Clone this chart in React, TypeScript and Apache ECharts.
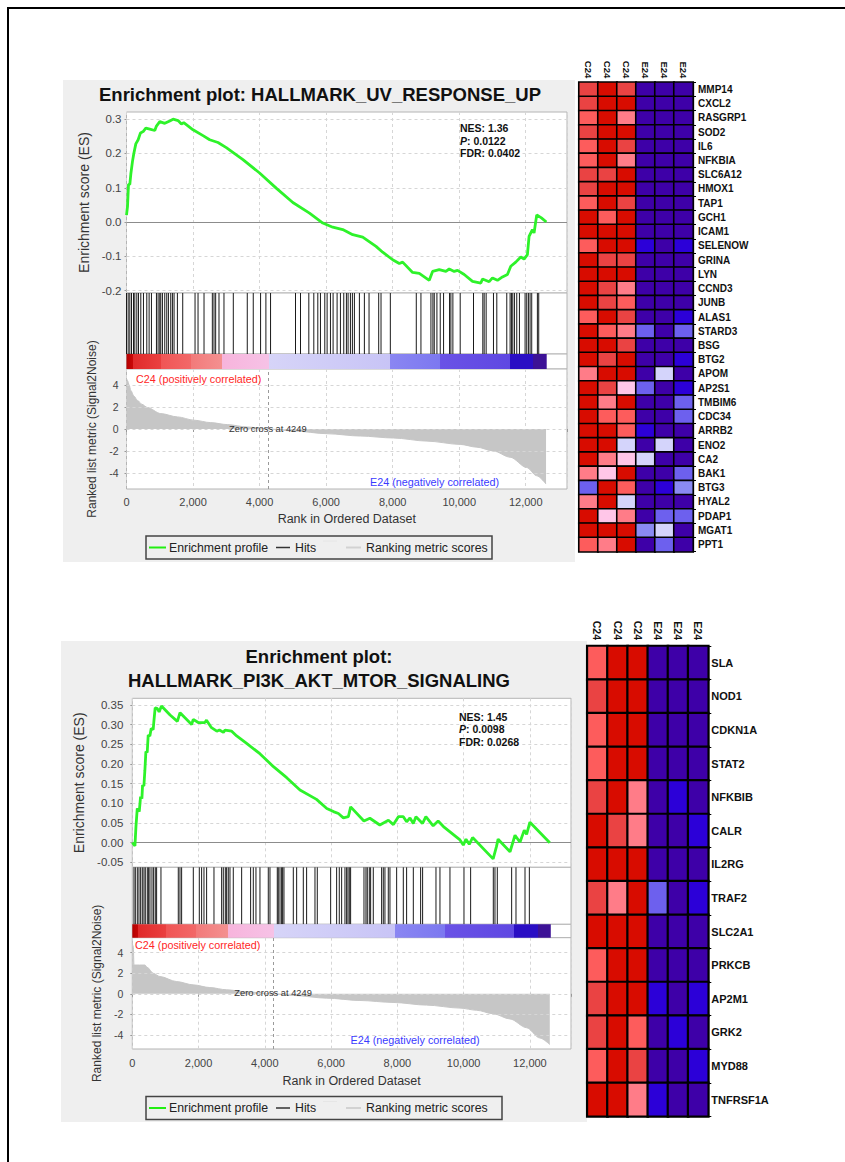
import React, { useEffect, useRef } from 'react';
import * as echarts from 'echarts';

const FONT = '"Liberation Sans", Arial, Helvetica, sans-serif';

// ---------------- Shared ----------------
const rankTickStep = 2000;
const rankAxisMax = 13240;
const datasetSize = 12630;
const zeroCross = 4249;
const metricTicks = [-4, -2, 0, 2, 4];
const legendLabels = ['Enrichment profile', 'Hits', 'Ranking metric scores'];
const posLabel = 'C24 (positively correlated)';
const negLabel = 'E24 (negatively correlated)';

// colour bar of the ranked list (rank, colour)
const barRank = [0, 180, 180, 1030, 1030, 1930, 1930, 2880, 2880, 4280, 4280, 7930, 7930, 9430, 9430, 11530, 11530, 12230, 12230, 12630];
const barColor = ['#b40000', '#c80808', '#e02a2a', '#ea4040', '#f05555', '#f26868', '#f27a7a', '#f49090', '#f7b4dc', '#f6c2e6', '#d6d4f8', '#c8c4f6', '#8a86f2', '#7c78f0', '#6a52e6', '#5f48e2', '#2a0ec4', '#2a0ec4', '#3c1296', '#3c1296'];

// ---------------- Top panel: HALLMARK_UV_RESPONSE_UP ----------------
const uvTitle = ['Enrichment plot: HALLMARK_UV_RESPONSE_UP'];
const uvStats = ['1.36', '0.0122', '0.0402'];
const uvEsTicks = [-0.2, -0.1, 0, 0.1, 0.2, 0.3];
const uvEsRank = [0, 30, 60, 100, 130, 180, 220, 280, 350, 420, 500, 580, 700, 850, 900, 1000, 1150, 1300, 1400, 1550, 1650, 1720, 2000, 2300, 2500, 2750, 3000, 3500, 4000, 4500, 5000, 5500, 5900, 6200, 6500, 6800, 7100, 7500, 7700, 8000, 8200, 8300, 8600, 8800, 9100, 9200, 9400, 9600, 9700, 9850, 9950, 10150, 10400, 10650, 10700, 10900, 11000, 11150, 11300, 11450, 11550, 11700, 11850, 11950, 12050, 12100, 12200, 12250, 12330, 12470, 12620];
const uvEsValue = [0.02, 0.045, 0.11, 0.11, 0.14, 0.177, 0.2, 0.228, 0.24, 0.26, 0.264, 0.274, 0.271, 0.267, 0.28, 0.293, 0.288, 0.295, 0.3, 0.296, 0.286, 0.29, 0.269, 0.252, 0.24, 0.232, 0.217, 0.182, 0.143, 0.099, 0.057, 0.026, -0.003, -0.015, -0.022, -0.037, -0.044, -0.071, -0.088, -0.11, -0.121, -0.117, -0.147, -0.15, -0.17, -0.144, -0.139, -0.144, -0.137, -0.144, -0.141, -0.153, -0.173, -0.178, -0.166, -0.174, -0.163, -0.17, -0.16, -0.153, -0.129, -0.117, -0.102, -0.108, -0.095, -0.042, -0.022, -0.032, 0.021, 0.012, 0.0];
const uvHits = [0, 50, 100, 150, 210, 250, 310, 360, 430, 510, 610, 680, 750, 900, 950, 1000, 1030, 1080, 1150, 1210, 1260, 1330, 1380, 1430, 1530, 1690, 2060, 2150, 2330, 2580, 2630, 2680, 2780, 2930, 3210, 3630, 3810, 4030, 4190, 4330, 5080, 5230, 5480, 5630, 5750, 5830, 5960, 6030, 6130, 6210, 6330, 6430, 6530, 6610, 6660, 6730, 6790, 6850, 7000, 7150, 7290, 7580, 7650, 7930, 8710, 8850, 9150, 9210, 9250, 9330, 9430, 9530, 9710, 9750, 9810, 10030, 10430, 10710, 10750, 10810, 11030, 11130, 11430, 11530, 11570, 11610, 11660, 11730, 11810, 11980, 12030, 12080, 12130, 12180, 12350, 12390];
const uvMetricRank = [0, 30, 80, 130, 220, 330, 460, 630, 1030, 1530, 2030, 2530, 3030, 3630, 4249, 5030, 6030, 7030, 8030, 9030, 10030, 10530, 11030, 11530, 12030, 12330, 12610];
const uvMetricValue = [4.6, 4.4, 4.0, 3.5, 3.0, 2.6, 2.25, 1.95, 1.4, 1.1, 0.8, 0.58, 0.4, 0.18, 0, -0.18, -0.43, -0.64, -0.82, -1.1, -1.4, -1.65, -2.0, -2.56, -3.5, -4.25, -5.0];

// ---------------- Bottom panel: HALLMARK_PI3K_AKT_MTOR_SIGNALING ----------------
const pi3kTitle = ['Enrichment plot:', 'HALLMARK_PI3K_AKT_MTOR_SIGNALING'];
const pi3kStats = ['1.45', '0.0098', '0.0268'];
const pi3kEsTicks = [-0.05, 0, 0.05, 0.1, 0.15, 0.2, 0.25, 0.3, 0.35];
const pi3kEsRank = [0, 80, 110, 150, 210, 250, 290, 310, 350, 380, 410, 450, 480, 530, 570, 630, 650, 690, 750, 810, 880, 1140, 1360, 1440, 1590, 1790, 1840, 1990, 2090, 2190, 2240, 2390, 2550, 2630, 2750, 2800, 3000, 3150, 3450, 3850, 4260, 4660, 5060, 5560, 5870, 6070, 6220, 6370, 6520, 6590, 6990, 7170, 7470, 7730, 7880, 8030, 8180, 8280, 8380, 8480, 8560, 8760, 8860, 9080, 9230, 9390, 9890, 9990, 10070, 10170, 10270, 10890, 10990, 11040, 11400, 11550, 11700, 11830, 11900, 12000, 12600];
const pi3kEsValue = [0, -0.008, 0.041, 0.087, 0.079, 0.117, 0.112, 0.146, 0.144, 0.184, 0.231, 0.229, 0.273, 0.271, 0.29, 0.287, 0.307, 0.342, 0.341, 0.332, 0.347, 0.324, 0.308, 0.33, 0.317, 0.3, 0.313, 0.305, 0.305, 0.305, 0.311, 0.292, 0.283, 0.286, 0.28, 0.286, 0.283, 0.271, 0.252, 0.226, 0.193, 0.165, 0.134, 0.11, 0.087, 0.079, 0.074, 0.063, 0.066, 0.091, 0.055, 0.062, 0.045, 0.057, 0.046, 0.066, 0.066, 0.053, 0.063, 0.049, 0.066, 0.049, 0.066, 0.043, 0.055, 0.041, 0.007, -0.006, 0.009, -0.004, 0.013, -0.041, -0.01, 0.009, -0.023, 0.019, 0.001, 0.032, 0.021, 0.052, 0.0];
const pi3kHits = [50, 91, 151, 201, 252, 302, 352, 392, 453, 493, 533, 594, 644, 694, 734, 865, 1388, 1439, 1489, 1841, 2022, 2092, 2163, 2243, 2465, 2696, 2746, 2807, 2847, 2897, 2948, 3048, 3300, 3571, 3652, 3732, 3853, 4104, 4155, 4376, 4406, 4457, 4507, 4537, 4577, 4859, 4960, 5161, 5261, 5513, 5583, 5986, 6167, 6247, 6318, 6418, 6468, 6509, 6549, 6589, 6992, 7052, 7092, 7153, 7193, 7273, 7525, 7575, 7625, 7726, 7776, 7978, 8179, 8279, 8481, 8702, 8762, 9165, 9285, 9587, 10010, 10211, 10895, 10945, 11016, 11449, 11580, 11852, 11983];
const pi3kMetricRank = [0, 30, 50, 380, 450, 630, 835, 1340, 1840, 2340, 2850, 3450, 4249, 4850, 5860, 6870, 7870, 8880, 9890, 10390, 10890, 11400, 11900, 12300, 12600];
const pi3kMetricValue = [4.9, 4.6, 2.8, 2.8, 2.58, 2.0, 1.68, 1.19, 0.87, 0.61, 0.39, 0.19, 0, -0.16, -0.42, -0.65, -0.84, -1.1, -1.39, -1.6, -1.94, -2.45, -3.3, -4.3, -4.94];

// ---------------- Heat maps ----------------
const heatColumns = ['C24', 'C24', 'C24', 'E24', 'E24', 'E24'];
const heatLevels = [5, 4, 3, 2, 1, -1, -2, -3, -4, -5];
const heatColors = ['#d80c00', '#ea4343', '#fd5c5c', '#ff7c88', '#ffc6e8', '#d4d4fb', '#8a8af2', '#6d60ee', '#2c00d8', '#3e00a8'];

const uvGenes = ['MMP14', 'CXCL2', 'RASGRP1', 'SOD2', 'IL6', 'NFKBIA', 'SLC6A12', 'HMOX1', 'TAP1', 'GCH1', 'ICAM1', 'SELENOW', 'GRINA', 'LYN', 'CCND3', 'JUNB', 'ALAS1', 'STARD3', 'BSG', 'BTG2', 'APOM', 'AP2S1', 'TMBIM6', 'CDC34', 'ARRB2', 'ENO2', 'CA2', 'BAK1', 'BTG3', 'HYAL2', 'PDAP1', 'MGAT1', 'PPT1'];
const uvHeat = [
  [4, 5, 4, -5, -5, -5],
  [4, 5, 5, -5, -5, -5],
  [3, 5, 2, -5, -5, -5],
  [4, 5, 5, -5, -5, -5],
  [3, 5, 4, -5, -5, -5],
  [3, 5, 2, -5, -5, -5],
  [4, 4, 5, -5, -5, -5],
  [4, 5, 5, -5, -5, -5],
  [3, 5, 4, -5, -5, -5],
  [5, 3, 5, -5, -5, -5],
  [5, 5, 5, -5, -5, -5],
  [3, 5, 5, -4, -5, -4],
  [5, 4, 4, -5, -5, -5],
  [5, 5, 5, -5, -5, -5],
  [5, 4, 2, -5, -5, -5],
  [5, 4, 3, -5, -5, -5],
  [3, 5, 4, -5, -5, -4],
  [5, 3, 2, -3, -5, -3],
  [5, 5, 4, -5, -5, -5],
  [5, 4, 5, -5, -5, -4],
  [2, 5, 5, -5, -1, -5],
  [5, 4, 1, -3, -5, -4],
  [5, 2, 5, -5, -5, -3],
  [5, 3, 3, -5, -5, -3],
  [5, 5, 3, -4, -5, -5],
  [5, 5, -1, -5, -1, -5],
  [5, 2, 1, -1, -5, -5],
  [2, 1, 5, -5, -5, -3],
  [-3, 5, 3, -5, -4, -2],
  [2, 5, -1, -5, -5, -5],
  [5, 1, 2, -5, -3, -3],
  [5, 5, 5, -2, -1, -5],
  [3, 2, 5, -5, -3, -5],
];

const pi3kGenes = ['SLA', 'NOD1', 'CDKN1A', 'STAT2', 'NFKBIB', 'CALR', 'IL2RG', 'TRAF2', 'SLC2A1', 'PRKCB', 'AP2M1', 'GRK2', 'MYD88', 'TNFRSF1A'];
const pi3kHeat = [
  [3, 5, 5, -5, -5, -5],
  [4, 5, 5, -5, -5, -5],
  [3, 5, 5, -5, -5, -5],
  [3, 5, 5, -5, -5, -5],
  [4, 5, 2, -5, -4, -5],
  [5, 4, 2, -5, -5, -4],
  [5, 5, 5, -5, -5, -5],
  [4, 2, 5, -3, -5, -4],
  [5, 5, 5, -5, -5, -5],
  [3, 5, 5, -5, -5, -5],
  [4, 5, 5, -4, -5, -4],
  [4, 5, 3, -5, -4, -5],
  [3, 5, 4, -5, -5, -4],
  [5, 5, 2, -4, -5, -5],
];

// ---------------- Layout (pixels) ----------------
const PANELS = [
  {
    left: 126.5, right: 567, es: [112, 293], hits: [293, 354], bar: [354, 369], rank: [369, 489],
    esMin: -0.207, esMax: 0.321, rkMin: -5.45, rkMax: 5.45, esDigits: 1,
    esLabelMargin: 5, esNameGap: 33, rkLabelMargin: 8, rkNameGap: 24, xLabelMargin: 7, xNameGap: 23,
    titleX: 320, titleY: [94], statsX: 460, statsY: 122,
    posX: 136, posY: 379, negX: 499, negY: 482, zeroY: 428.7,
    legend: { x: 146, y: 536, w: 346, h: 23 },
  },
  {
    left: 132.3, right: 571, es: [698.3, 867.3], hits: [867.3, 924.3], bar: [924.3, 937.7], rank: [937.7, 1049],
    esMin: -0.0624, esMax: 0.3665, rkMin: -5.37, rkMax: 5.46, esDigits: 2,
    esLabelMargin: 9, esNameGap: 40, rkLabelMargin: 9, rkNameGap: 24, xLabelMargin: 8, xNameGap: 25,
    titleX: 319, titleY: [656, 680], statsX: 459, statsY: 710.5,
    posX: 135, posY: 945, negX: 479.5, negY: 1040, zeroY: 993.3,
    legend: { x: 146, y: 1096.5, w: 356, h: 23 },
  },
];
const HEAT = [
  { left: 579, top: 82.3, width: 114, height: 469.4, border: 1.6, font: 10, colFont: 9.5, colMargin: 4, rowMargin: 5 },
  { left: 587.3, top: 646, width: 121, height: 470.4, border: 2.2, font: 11, colFont: 10.5, colMargin: 6, rowMargin: 3 },
];

const fmtRank = (v: number) =>
  v % rankTickStep === 0 && v <= 12000 ? String(v).replace(/\B(?=(\d{3})+(?!\d))/g, ',') : '';

function buildOption() {
  const grids: any[] = [];
  const xAxes: any[] = [];
  const yAxes: any[] = [];
  const series: any[] = [];
  const graphics: any[] = [];

  const panelData = [
    { title: uvTitle, stats: uvStats, esTicks: uvEsTicks, esRank: uvEsRank, esValue: uvEsValue, hits: uvHits, mRank: uvMetricRank, mValue: uvMetricValue },
    { title: pi3kTitle, stats: pi3kStats, esTicks: pi3kEsTicks, esRank: pi3kEsRank, esValue: pi3kEsValue, hits: pi3kHits, mRank: pi3kMetricRank, mValue: pi3kMetricValue },
  ];

  const stops = barRank.map((r, i) => ({ offset: r / datasetSize, color: barColor[i] }));
  const dashed = { color: '#d6d6d6', type: [3, 3], width: 1 };

  PANELS.forEach((L, p) => {
    const d = panelData[p];
    const base = p * 4;
    const bands = [L.es, L.hits, L.bar, L.rank];
    bands.forEach(([t, b]) =>
      grids.push({ left: L.left, top: t, width: L.right - L.left, height: b - t, show: true, backgroundColor: '#ffffff', borderColor: '#b4b4b4', borderWidth: 1 })
    );
    bands.forEach((_, k) => {
      xAxes.push({
        type: 'value', gridIndex: base + k, min: 0, max: rankAxisMax, interval: rankTickStep,
        axisLine: { show: false },
        axisTick: k === 3 ? { show: true, length: 3, lineStyle: { color: '#999' } } : { show: false },
        axisLabel: k === 3 ? { show: true, formatter: fmtRank, fontSize: 11, color: '#444', fontFamily: FONT, margin: L.xLabelMargin } : { show: false },
        splitLine: { show: k === 0 || k === 3, lineStyle: dashed },
        name: k === 3 ? 'Rank in Ordered Dataset' : '',
        nameLocation: 'middle', nameGap: L.xNameGap,
        nameTextStyle: { fontSize: 12.5, color: '#333', fontFamily: FONT },
      });
    });
    yAxes.push({
      type: 'value', gridIndex: base, min: L.esMin, max: L.esMax,
      axisLine: { show: false }, splitLine: { show: false },
      axisTick: { show: true, customValues: d.esTicks, length: 2, lineStyle: { color: '#999' } },
      axisLabel: { customValues: d.esTicks, formatter: (v: number) => v.toFixed(L.esDigits), fontSize: 11.5, color: '#444', margin: L.esLabelMargin, fontFamily: FONT },
      name: 'Enrichment score (ES)', nameLocation: 'middle', nameRotate: 90, nameGap: L.esNameGap,
      nameTextStyle: { fontSize: 14, color: '#333', fontFamily: FONT },
    });
    yAxes.push({ type: 'value', gridIndex: base + 1, min: 0, max: 1, show: false });
    yAxes.push({ type: 'value', gridIndex: base + 2, min: 0, max: 1, show: false });
    yAxes.push({
      type: 'value', gridIndex: base + 3, min: L.rkMin, max: L.rkMax,
      axisLine: { show: false }, splitLine: { show: false },
      axisTick: { show: true, customValues: metricTicks, length: 2, lineStyle: { color: '#999' } },
      axisLabel: { customValues: metricTicks, formatter: (v: number) => String(v), fontSize: 10.5, color: '#444', margin: L.rkLabelMargin, fontFamily: FONT },
      name: 'Ranked list metric (Signal2Noise)', nameLocation: 'middle', nameRotate: 90, nameGap: L.rkNameGap,
      nameTextStyle: { fontSize: 12, color: '#333', fontFamily: FONT },
    });

    // ES horizontal grid lines
    series.push({
      type: 'line', xAxisIndex: base, yAxisIndex: base, data: [], z: 1, silent: true,
      markLine: { silent: true, symbol: ['none', 'none'], label: { show: false }, lineStyle: dashed,
        data: d.esTicks.filter((v) => Math.abs(v) > 1e-9).map((v) => ({ yAxis: v })) },
    });
    // ES curve
    series.push({
      type: 'line', xAxisIndex: base, yAxisIndex: base, z: 5, silent: true,
      data: d.esRank.map((r, i) => [r, d.esValue[i]]),
      showSymbol: false, lineStyle: { color: '#2ef22a', width: 2.8 },
      markLine: { silent: true, symbol: ['none', 'none'], label: { show: false }, lineStyle: { color: '#8c8c8c', type: 'solid', width: 1 }, data: [{ yAxis: 0 }] },
    });
    // hits
    series.push({
      type: 'custom', xAxisIndex: base + 1, yAxisIndex: base + 1, silent: true,
      data: d.hits.map((h) => [h, 0]), encode: { x: 0, y: 1 },
      renderItem: (params: any, api: any) => {
        const x = api.coord([api.value(0), 0])[0];
        const cs = params.coordSys;
        return { type: 'line', shape: { x1: x, y1: cs.y, x2: x, y2: cs.y + cs.height }, style: { stroke: '#1a1a1a', lineWidth: 1 } };
      },
    });
    // colour bar
    series.push({
      type: 'custom', xAxisIndex: base + 2, yAxisIndex: base + 2, silent: true,
      data: [[0, 0, datasetSize]], encode: { x: [0, 2], y: 1 },
      renderItem: (params: any, api: any) => {
        const cs = params.coordSys;
        const x0 = api.coord([api.value(0), 0])[0];
        const x1 = api.coord([api.value(2), 0])[0];
        return { type: 'rect', shape: { x: x0, y: cs.y, width: x1 - x0, height: cs.height }, style: { fill: new echarts.graphic.LinearGradient(0, 0, 1, 0, stops) } };
      },
    });
    // ranked horizontal grid lines
    series.push({
      type: 'line', xAxisIndex: base + 3, yAxisIndex: base + 3, data: [], z: 1, silent: true,
      markLine: { silent: true, symbol: ['none', 'none'], label: { show: false }, lineStyle: dashed,
        data: metricTicks.map((v) => ({ yAxis: v })) },
    });
    // ranked list metric area
    series.push({
      type: 'line', xAxisIndex: base + 3, yAxisIndex: base + 3, z: 3, silent: true,
      data: d.mRank.map((r, i) => [r, d.mValue[i]]),
      smooth: 0.3, smoothMonotone: 'x', showSymbol: false,
      lineStyle: { width: 1, color: '#c6c6c6' }, areaStyle: { color: '#c6c6c6', opacity: 1 },
      markLine: { silent: true, symbol: ['none', 'none'], label: { show: false }, lineStyle: { color: '#9a9a9a', type: [3, 3], width: 1 }, data: [{ xAxis: zeroCross }] },
    });

    // texts
    d.title.forEach((t, i) =>
      graphics.push({ type: 'text', x: L.titleX, y: L.titleY[i], z: 100, style: { text: t, font: `bold 18.5px ${FONT}`, fill: '#111', align: 'center', verticalAlign: 'middle' } })
    );
    graphics.push({
      type: 'text', x: L.statsX, y: L.statsY, z: 100,
      style: {
        text: `{b|NES: ${d.stats[0]}}\n{i|P}{b|: ${d.stats[1]}}\n{b|FDR: ${d.stats[2]}}`,
        rich: {
          b: { fontFamily: FONT, fontSize: 10.5, fontWeight: 'bold', fill: '#111', lineHeight: 12.5 },
          i: { fontFamily: FONT, fontSize: 10.5, fontWeight: 'bold', fontStyle: 'italic', fill: '#111', lineHeight: 12.5 },
        },
      },
    });
    graphics.push({ type: 'text', x: L.posX, y: L.posY, z: 100, style: { text: posLabel, font: `10.8px ${FONT}`, fill: '#ff2626', align: 'left', verticalAlign: 'middle' } });
    graphics.push({ type: 'text', x: L.negX, y: L.negY, z: 100, style: { text: negLabel, font: `10.8px ${FONT}`, fill: '#3a3aff', align: 'right', verticalAlign: 'middle' } });
    const zx = L.left + (zeroCross / rankAxisMax) * (L.right - L.left);
    graphics.push({ type: 'text', x: zx, y: L.zeroY, z: 100, style: { text: `Zero cross at ${zeroCross}`, font: `9.3px ${FONT}`, fill: '#333', align: 'center', verticalAlign: 'middle' } });

    // legend
    const g = L.legend;
    const cy = g.y + g.h / 2;
    graphics.push({ type: 'rect', z: 100, shape: { x: g.x, y: g.y, width: g.w, height: g.h }, style: { fill: 'none', stroke: '#444', lineWidth: 1.5 } });
    graphics.push({ type: 'line', z: 100, shape: { x1: g.x + 3, y1: cy, x2: g.x + 20, y2: cy }, style: { stroke: '#22ee11', lineWidth: 2 } });
    graphics.push({ type: 'line', z: 100, shape: { x1: g.x + 130, y1: cy, x2: g.x + 144, y2: cy }, style: { stroke: '#333', lineWidth: 1.5 } });
    graphics.push({ type: 'line', z: 100, shape: { x1: g.x + 177, y1: g.y + 5, x2: g.x + 191, y2: g.y + 5 }, style: { stroke: '#e6e6e6', lineWidth: 1 } });
    graphics.push({ type: 'line', z: 100, shape: { x1: g.x + 200, y1: cy, x2: g.x + 215, y2: cy }, style: { stroke: '#d2d2d2', lineWidth: 2 } });
    [[23, 0], [149, 1], [220, 2]].forEach(([dx, i]) =>
      graphics.push({ type: 'text', z: 100, x: g.x + dx, y: cy, style: { text: legendLabels[i], font: `12.3px ${FONT}`, fill: '#222', align: 'left', verticalAlign: 'middle' } })
    );
  });

  // heat maps
  const heatSeriesIdx: number[] = [];
  const heatSets = [
    { genes: uvGenes, values: uvHeat },
    { genes: pi3kGenes, values: pi3kHeat },
  ];
  heatSets.forEach((h, k) => {
    const H = HEAT[k];
    const gi = grids.length;
    grids.push({ left: H.left, top: H.top, width: H.width, height: H.height });
    xAxes.push({
      type: 'category', gridIndex: gi, data: heatColumns.map((_, i) => String(i)), position: 'top',
      axisLine: { show: false }, axisTick: { show: false }, splitLine: { show: false },
      axisLabel: { interval: 0, rotate: 90, margin: H.colMargin, fontSize: H.colFont, fontWeight: 'bold', color: '#111', fontFamily: FONT, formatter: (_v: string, i: number) => heatColumns[i] },
    });
    yAxes.push({
      type: 'category', gridIndex: gi, data: h.genes, inverse: true, position: 'right',
      axisLine: { show: true, lineStyle: { color: '#000', width: 1.2 } },
      axisTick: { show: true, length: 3, lineStyle: { color: '#000' } },
      splitLine: { show: false },
      axisLabel: { interval: 0, margin: H.rowMargin, fontSize: H.font, fontWeight: 'bold', color: '#111', fontFamily: FONT },
    });
    heatSeriesIdx.push(series.length);
    const data: number[][] = [];
    h.values.forEach((row, r) => row.forEach((v, c) => data.push([c, r, v])));
    series.push({
      type: 'heatmap', xAxisIndex: gi, yAxisIndex: gi, data, silent: true,
      itemStyle: { borderColor: '#000', borderWidth: H.border },
      emphasis: { disabled: true },
    });
  });

  return {
    animation: false,
    grid: grids,
    xAxis: xAxes,
    yAxis: yAxes,
    visualMap: {
      type: 'piecewise', show: false, dimension: 2, seriesIndex: heatSeriesIdx,
      pieces: heatLevels.map((v, i) => ({ value: v, color: heatColors[i] })),
    },
    series,
    graphic: graphics,
  };
}

export default function App() {
  const ref = useRef<HTMLDivElement>(null);
  useEffect(() => {
    const chart = echarts.init(ref.current as HTMLDivElement, null, { renderer: 'svg' });
    chart.setOption(buildOption() as any);
    return () => chart.dispose();
  }, []);
  return (
    <div style={{ position: 'fixed', left: 0, top: 0, width: 845, height: 1162, background: '#fff', overflow: 'hidden' }}>
      <div style={{ position: 'absolute', left: 7, top: 7, width: 900, height: 1200, border: '2px solid #000', boxSizing: 'border-box' }} />
      <div style={{ position: 'absolute', left: 63, top: 80, width: 512, height: 482, background: '#efefef' }} />
      <div style={{ position: 'absolute', left: 61, top: 641, width: 526, height: 481, background: '#efefef' }} />
      <div ref={ref} style={{ position: 'absolute', left: 0, top: 0, width: 845, height: 1162 }} />
    </div>
  );
}
